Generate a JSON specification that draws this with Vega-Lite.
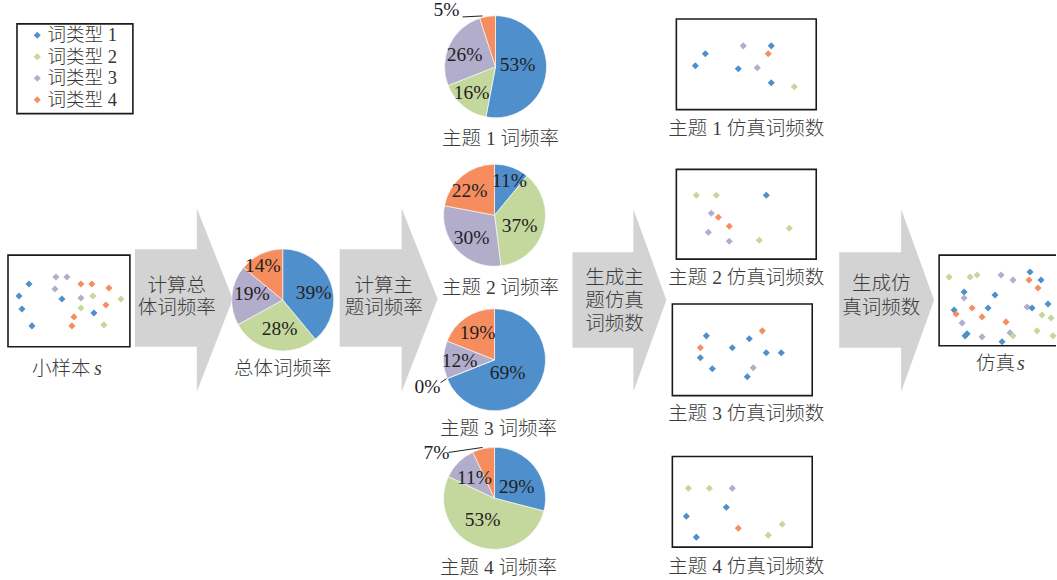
{
  "$schema": "https://vega.github.io/schema/vega-lite/v6.json",
  "width": 1057,
  "height": 580,
  "autosize": {"type": "fit", "contains": "padding"},
  "padding": 0,
  "background": "white",
  "config": {"view": {"stroke": null}},
  "datasets": {
    "arrowBody": [
      {"a": 1, "x0": 135, "x1": 198, "y0": 248, "y1": 346},
      {"a": 2, "x0": 340, "x1": 403, "y0": 248, "y1": 346},
      {"a": 3, "x0": 573, "x1": 635, "y0": 251, "y1": 347},
      {"a": 4, "x0": 840, "x1": 903, "y0": 251, "y1": 347}
    ],
    "arrowHead": [
      {"a": 1, "x": 197, "yt": 207, "yb": 391},
      {"a": 1, "x": 233, "yt": 298, "yb": 298},
      {"a": 2, "x": 402, "yt": 207, "yb": 391},
      {"a": 2, "x": 438, "yt": 298, "yb": 298},
      {"a": 3, "x": 634, "yt": 208, "yb": 391},
      {"a": 3, "x": 667, "yt": 299, "yb": 299},
      {"a": 4, "x": 902, "yt": 208, "yb": 391},
      {"a": 4, "x": 935, "yt": 299, "yb": 299}
    ],
    "boxes": [
      {"b": "legend", "x0": 17, "y0": 22, "x1": 133, "y1": 112},
      {"b": "sample", "x0": 8, "y0": 254, "x1": 130, "y1": 346},
      {"b": "topic1", "x0": 677, "y0": 17, "x1": 817, "y1": 108},
      {"b": "topic2", "x0": 677, "y0": 168, "x1": 817, "y1": 258},
      {"b": "topic3", "x0": 673, "y0": 303, "x1": 813, "y1": 395},
      {"b": "topic4", "x0": 673, "y0": 456, "x1": 813, "y1": 547},
      {"b": "sim", "x0": 940, "y0": 254, "x1": 1070, "y1": 345}
    ],
    "points": [
      {"x": 29, "y": 283, "t": "词类型 1"}, {"x": 19, "y": 295, "t": "词类型 1"}, {"x": 22, "y": 308, "t": "词类型 1"},
      {"x": 32, "y": 325, "t": "词类型 1"}, {"x": 62, "y": 298, "t": "词类型 1"}, {"x": 94, "y": 312, "t": "词类型 1"},
      {"x": 56, "y": 276, "t": "词类型 3"}, {"x": 67, "y": 276, "t": "词类型 3"}, {"x": 55, "y": 288, "t": "词类型 3"},
      {"x": 81, "y": 297, "t": "词类型 3"},
      {"x": 81, "y": 283, "t": "词类型 4"}, {"x": 92, "y": 283, "t": "词类型 4"}, {"x": 109, "y": 287, "t": "词类型 4"},
      {"x": 106, "y": 304, "t": "词类型 4"}, {"x": 74, "y": 316, "t": "词类型 4"}, {"x": 72, "y": 325, "t": "词类型 4"},
      {"x": 93, "y": 295, "t": "词类型 2"}, {"x": 81, "y": 307, "t": "词类型 2"}, {"x": 121, "y": 298, "t": "词类型 2"},
      {"x": 104, "y": 324, "t": "词类型 2"},

      {"x": 706, "y": 52, "t": "词类型 1"}, {"x": 696, "y": 64, "t": "词类型 1"}, {"x": 739, "y": 67, "t": "词类型 1"},
      {"x": 772, "y": 44, "t": "词类型 1"}, {"x": 772, "y": 81, "t": "词类型 1"},
      {"x": 744, "y": 44, "t": "词类型 3"}, {"x": 758, "y": 66, "t": "词类型 3"},
      {"x": 769, "y": 52, "t": "词类型 4"}, {"x": 795, "y": 85, "t": "词类型 2"},

      {"x": 697, "y": 194, "t": "词类型 2"}, {"x": 717, "y": 194, "t": "词类型 2"}, {"x": 767, "y": 194, "t": "词类型 1"},
      {"x": 712, "y": 212, "t": "词类型 3"}, {"x": 719, "y": 216, "t": "词类型 4"}, {"x": 730, "y": 225, "t": "词类型 4"},
      {"x": 709, "y": 231, "t": "词类型 3"}, {"x": 730, "y": 240, "t": "词类型 3"}, {"x": 760, "y": 239, "t": "词类型 2"},
      {"x": 790, "y": 227, "t": "词类型 2"},

      {"x": 707, "y": 335, "t": "词类型 1"}, {"x": 701, "y": 347, "t": "词类型 4"}, {"x": 701, "y": 357, "t": "词类型 1"},
      {"x": 713, "y": 368, "t": "词类型 1"}, {"x": 733, "y": 347, "t": "词类型 1"}, {"x": 750, "y": 338, "t": "词类型 1"},
      {"x": 763, "y": 330, "t": "词类型 4"}, {"x": 767, "y": 352, "t": "词类型 1"}, {"x": 782, "y": 352, "t": "词类型 1"},
      {"x": 754, "y": 367, "t": "词类型 3"}, {"x": 748, "y": 376, "t": "词类型 1"},

      {"x": 689, "y": 488, "t": "词类型 2"}, {"x": 710, "y": 488, "t": "词类型 2"}, {"x": 733, "y": 488, "t": "词类型 3"},
      {"x": 727, "y": 507, "t": "词类型 1"}, {"x": 687, "y": 516, "t": "词类型 1"}, {"x": 697, "y": 537, "t": "词类型 1"},
      {"x": 739, "y": 528, "t": "词类型 4"}, {"x": 769, "y": 535, "t": "词类型 2"}, {"x": 783, "y": 524, "t": "词类型 2"},

      {"x": 950, "y": 276, "t": "词类型 2"}, {"x": 971, "y": 276, "t": "词类型 2"}, {"x": 978, "y": 274, "t": "词类型 2"},
      {"x": 1002, "y": 274, "t": "词类型 3"}, {"x": 1014, "y": 279, "t": "词类型 3"}, {"x": 1031, "y": 271, "t": "词类型 1"},
      {"x": 1030, "y": 279, "t": "词类型 4"}, {"x": 1042, "y": 279, "t": "词类型 1"}, {"x": 1039, "y": 287, "t": "词类型 4"},
      {"x": 965, "y": 291, "t": "词类型 1"}, {"x": 965, "y": 297, "t": "词类型 3"}, {"x": 996, "y": 294, "t": "词类型 1"},
      {"x": 955, "y": 309, "t": "词类型 1"}, {"x": 957, "y": 313, "t": "词类型 4"}, {"x": 973, "y": 307, "t": "词类型 4"},
      {"x": 989, "y": 307, "t": "词类型 1"}, {"x": 983, "y": 316, "t": "词类型 4"}, {"x": 1028, "y": 306, "t": "词类型 3"},
      {"x": 1033, "y": 307, "t": "词类型 1"}, {"x": 1049, "y": 303, "t": "词类型 1"}, {"x": 1043, "y": 314, "t": "词类型 2"},
      {"x": 1052, "y": 317, "t": "词类型 2"}, {"x": 963, "y": 322, "t": "词类型 3"}, {"x": 1007, "y": 321, "t": "词类型 4"},
      {"x": 1011, "y": 332, "t": "词类型 3"}, {"x": 1014, "y": 335, "t": "词类型 2"}, {"x": 966, "y": 335, "t": "词类型 1"},
      {"x": 968, "y": 333, "t": "词类型 1"}, {"x": 983, "y": 336, "t": "词类型 3"}, {"x": 1003, "y": 341, "t": "词类型 1"},
      {"x": 1038, "y": 330, "t": "词类型 2"}, {"x": 1054, "y": 335, "t": "词类型 2"}
    ],
    "pies": [
      {"pie": "总体", "cx": 283, "cy": 299, "t": "词类型 1", "v": 39},
      {"pie": "总体", "cx": 283, "cy": 299, "t": "词类型 2", "v": 28},
      {"pie": "总体", "cx": 283, "cy": 299, "t": "词类型 3", "v": 19},
      {"pie": "总体", "cx": 283, "cy": 299, "t": "词类型 4", "v": 14},
      {"pie": "主题 1", "cx": 496, "cy": 65, "t": "词类型 1", "v": 53},
      {"pie": "主题 1", "cx": 496, "cy": 65, "t": "词类型 2", "v": 16},
      {"pie": "主题 1", "cx": 496, "cy": 65, "t": "词类型 3", "v": 26},
      {"pie": "主题 1", "cx": 496, "cy": 65, "t": "词类型 4", "v": 5},
      {"pie": "主题 2", "cx": 495, "cy": 214, "t": "词类型 1", "v": 11},
      {"pie": "主题 2", "cx": 495, "cy": 214, "t": "词类型 2", "v": 37},
      {"pie": "主题 2", "cx": 495, "cy": 214, "t": "词类型 3", "v": 30},
      {"pie": "主题 2", "cx": 495, "cy": 214, "t": "词类型 4", "v": 22},
      {"pie": "主题 3", "cx": 495, "cy": 359, "t": "词类型 1", "v": 69},
      {"pie": "主题 3", "cx": 495, "cy": 359, "t": "词类型 2", "v": 0},
      {"pie": "主题 3", "cx": 495, "cy": 359, "t": "词类型 3", "v": 12},
      {"pie": "主题 3", "cx": 495, "cy": 359, "t": "词类型 4", "v": 19},
      {"pie": "主题 4", "cx": 495, "cy": 498, "t": "词类型 1", "v": 29},
      {"pie": "主题 4", "cx": 495, "cy": 498, "t": "词类型 2", "v": 53},
      {"pie": "主题 4", "cx": 495, "cy": 498, "t": "词类型 3", "v": 11},
      {"pie": "主题 4", "cx": 495, "cy": 498, "t": "词类型 4", "v": 7}
    ],
    "pieLabels": [
      {"x": 314, "y": 292, "s": "39%"}, {"x": 280, "y": 328, "s": "28%"}, {"x": 252, "y": 293, "s": "19%"}, {"x": 263, "y": 265, "s": "14%"},
      {"x": 518, "y": 63, "s": "53%"}, {"x": 472, "y": 91, "s": "16%"}, {"x": 465, "y": 53, "s": "26%"}, {"x": 447, "y": 8, "s": "5%"},
      {"x": 510, "y": 180, "s": "11%"}, {"x": 520, "y": 225, "s": "37%"}, {"x": 472, "y": 237, "s": "30%"}, {"x": 470, "y": 190, "s": "22%"},
      {"x": 508, "y": 372, "s": "69%"}, {"x": 460, "y": 360, "s": "12%"}, {"x": 478, "y": 332, "s": "19%"}, {"x": 428, "y": 386, "s": "0%"},
      {"x": 517, "y": 487, "s": "29%"}, {"x": 483, "y": 520, "s": "53%"}, {"x": 475, "y": 478, "s": "11%"}, {"x": 437, "y": 453, "s": "7%"}
    ],
    "leaders": [
      {"x": 463, "y": 15, "x2": 483, "y2": 14},
      {"x": 441, "y": 382, "x2": 447, "y2": 378},
      {"x": 449, "y": 452, "x2": 483, "y2": 447}
    ],
    "titles": [
      {"x": 283, "y": 368, "s": "总体词频率"},
      {"x": 501, "y": 137, "s": "主题 1 词频率"},
      {"x": 501, "y": 287, "s": "主题 2 词频率"},
      {"x": 499, "y": 428, "s": "主题 3 词频率"},
      {"x": 499, "y": 568, "s": "主题 4 词频率"},
      {"x": 747, "y": 127, "s": "主题 1 仿真词频数"},
      {"x": 747, "y": 277, "s": "主题 2 仿真词频数"},
      {"x": 747, "y": 413, "s": "主题 3 仿真词频数"},
      {"x": 747, "y": 567, "s": "主题 4 仿真词频数"},
      {"x": 177, "y": 285, "s": "计算总"},
      {"x": 177, "y": 307, "s": "体词频率"},
      {"x": 384, "y": 285, "s": "计算主"},
      {"x": 384, "y": 307, "s": "题词频率"},
      {"x": 615, "y": 277, "s": "生成主"},
      {"x": 615, "y": 300, "s": "题仿真"},
      {"x": 615, "y": 323, "s": "词频数"},
      {"x": 882, "y": 283, "s": "生成仿"},
      {"x": 882, "y": 307, "s": "真词频数"}
    ],
    "leftTitles": [
      {"x": 32, "y": 368, "s": "小样本"},
      {"x": 977, "y": 363, "s": "仿真"}
    ],
    "italicTitles": [
      {"x": 94, "y": 368, "s": "s"},
      {"x": 1018, "y": 363, "s": "s"}
    ]
  },
  "layer": [
    {
      "data": {"name": "arrowBody"},
      "mark": {"type": "rect", "fill": "#d3d3d4"},
      "encoding": {
        "x": {"field": "x0", "type": "quantitative", "scale": {"domain": [0, 1057], "nice": false, "zero": false}, "axis": null},
        "x2": {"field": "x1"},
        "y": {"field": "y0", "type": "quantitative", "scale": {"domain": [0, 580], "nice": false, "zero": false, "reverse": true}, "axis": null},
        "y2": {"field": "y1"}
      }
    },
    {
      "data": {"name": "arrowHead"},
      "mark": {"type": "area", "fill": "#d3d3d4", "orient": "vertical", "interpolate": "linear"},
      "encoding": {
        "x": {"field": "x", "type": "quantitative", "scale": {"domain": [0, 1057], "nice": false, "zero": false}, "axis": null},
        "y": {"field": "yt", "type": "quantitative", "scale": {"domain": [0, 580], "nice": false, "zero": false, "reverse": true}, "axis": null, "stack": null},
        "y2": {"field": "yb"},
        "detail": {"field": "a", "type": "nominal"}
      }
    },
    {
      "data": {"name": "boxes"},
      "mark": {"type": "rect", "filled": false, "stroke": "#1a1a1a", "strokeWidth": 1.6, "clip": true},
      "encoding": {
        "x": {"field": "x0", "type": "quantitative", "scale": {"domain": [0, 1057], "nice": false, "zero": false}, "axis": null},
        "x2": {"field": "x1"},
        "y": {"field": "y0", "type": "quantitative", "scale": {"domain": [0, 580], "nice": false, "zero": false, "reverse": true}, "axis": null},
        "y2": {"field": "y1"}
      }
    },
    {
      "data": {"name": "pies"},
      "transform": [
        {"stack": "v", "groupby": ["pie"], "sort": [{"field": "t", "order": "ascending"}], "as": ["t0", "t1"]}
      ],
      "mark": {"type": "arc", "outerRadius": 51, "stroke": "white", "strokeWidth": 0.6},
      "encoding": {
        "x": {"field": "cx", "type": "quantitative", "scale": {"domain": [0, 1057], "nice": false, "zero": false}, "axis": null},
        "y": {"field": "cy", "type": "quantitative", "scale": {"domain": [0, 580], "nice": false, "zero": false, "reverse": true}, "axis": null},
        "theta": {"field": "t0", "type": "quantitative", "stack": null, "scale": {"domain": [0, 100], "range": [0, 6.283185307]}},
        "theta2": {"field": "t1"},
        "color": {
          "field": "t", "type": "nominal",
          "scale": {"domain": ["词类型 1", "词类型 2", "词类型 3", "词类型 4"], "range": ["#4f8fcc", "#c4d79d", "#b2adcb", "#f68d5f"]},
          "legend": {"orient": "none", "legendX": 28, "legendY": 24, "title": null, "symbolType": "diamond", "symbolSize": 50, "symbolStrokeWidth": 0, "labelFontSize": 18.5, "labelFontWeight": 300, "labelFont": "Liberation Serif, Noto Sans CJK SC", "labelColor": "#333333", "rowPadding": 2.5, "labelOffset": 1, "padding": 0}
        }
      }
    },
    {
      "data": {"name": "points"},
      "mark": {"type": "point", "shape": "diamond", "filled": true, "size": 50, "opacity": 1},
      "encoding": {
        "x": {"field": "x", "type": "quantitative", "scale": {"domain": [0, 1057], "nice": false, "zero": false}, "axis": null},
        "y": {"field": "y", "type": "quantitative", "scale": {"domain": [0, 580], "nice": false, "zero": false, "reverse": true}, "axis": null},
        "color": {
          "field": "t", "type": "nominal",
          "scale": {"domain": ["词类型 1", "词类型 2", "词类型 3", "词类型 4"], "range": ["#4f8fcc", "#c4d79d", "#b2adcb", "#f68d5f"]},
          "legend": {"orient": "none", "legendX": 28, "legendY": 24, "title": null, "symbolType": "diamond", "symbolSize": 50, "symbolStrokeWidth": 0, "labelFontSize": 18.5, "labelFontWeight": 300, "labelFont": "Liberation Serif, Noto Sans CJK SC", "labelColor": "#333333", "rowPadding": 2.5, "labelOffset": 1, "padding": 0}
        }
      }
    },
    {
      "data": {"name": "leaders"},
      "mark": {"type": "rule", "stroke": "#222222", "strokeWidth": 1},
      "encoding": {
        "x": {"field": "x", "type": "quantitative", "scale": {"domain": [0, 1057], "nice": false, "zero": false}, "axis": null},
        "y": {"field": "y", "type": "quantitative", "scale": {"domain": [0, 580], "nice": false, "zero": false, "reverse": true}, "axis": null},
        "x2": {"field": "x2"},
        "y2": {"field": "y2"}
      }
    },
    {
      "data": {"name": "pieLabels"},
      "mark": {"type": "text", "font": "Liberation Serif", "fontSize": 19.5, "color": "#222222", "align": "center", "baseline": "middle"},
      "encoding": {
        "x": {"field": "x", "type": "quantitative", "scale": {"domain": [0, 1057], "nice": false, "zero": false}, "axis": null},
        "y": {"field": "y", "type": "quantitative", "scale": {"domain": [0, 580], "nice": false, "zero": false, "reverse": true}, "axis": null},
        "text": {"field": "s", "type": "nominal"}
      }
    },
    {
      "data": {"name": "titles"},
      "mark": {"type": "text", "font": "Liberation Serif, Noto Sans CJK SC", "fontSize": 19.5, "fontWeight": 300, "color": "#3c3c3c", "align": "center", "baseline": "middle"},
      "encoding": {
        "x": {"field": "x", "type": "quantitative", "scale": {"domain": [0, 1057], "nice": false, "zero": false}, "axis": null},
        "y": {"field": "y", "type": "quantitative", "scale": {"domain": [0, 580], "nice": false, "zero": false, "reverse": true}, "axis": null},
        "text": {"field": "s", "type": "nominal"}
      }
    },
    {
      "data": {"name": "leftTitles"},
      "mark": {"type": "text", "font": "Liberation Serif, Noto Sans CJK SC", "fontSize": 19.5, "fontWeight": 300, "color": "#3c3c3c", "align": "left", "baseline": "middle"},
      "encoding": {
        "x": {"field": "x", "type": "quantitative", "scale": {"domain": [0, 1057], "nice": false, "zero": false}, "axis": null},
        "y": {"field": "y", "type": "quantitative", "scale": {"domain": [0, 580], "nice": false, "zero": false, "reverse": true}, "axis": null},
        "text": {"field": "s", "type": "nominal"}
      }
    },
    {
      "data": {"name": "italicTitles"},
      "mark": {"type": "text", "font": "Liberation Serif", "fontStyle": "italic", "fontSize": 20, "color": "#3c3c3c", "align": "left", "baseline": "middle"},
      "encoding": {
        "x": {"field": "x", "type": "quantitative", "scale": {"domain": [0, 1057], "nice": false, "zero": false}, "axis": null},
        "y": {"field": "y", "type": "quantitative", "scale": {"domain": [0, 580], "nice": false, "zero": false, "reverse": true}, "axis": null},
        "text": {"field": "s", "type": "nominal"}
      }
    }
  ]
}
